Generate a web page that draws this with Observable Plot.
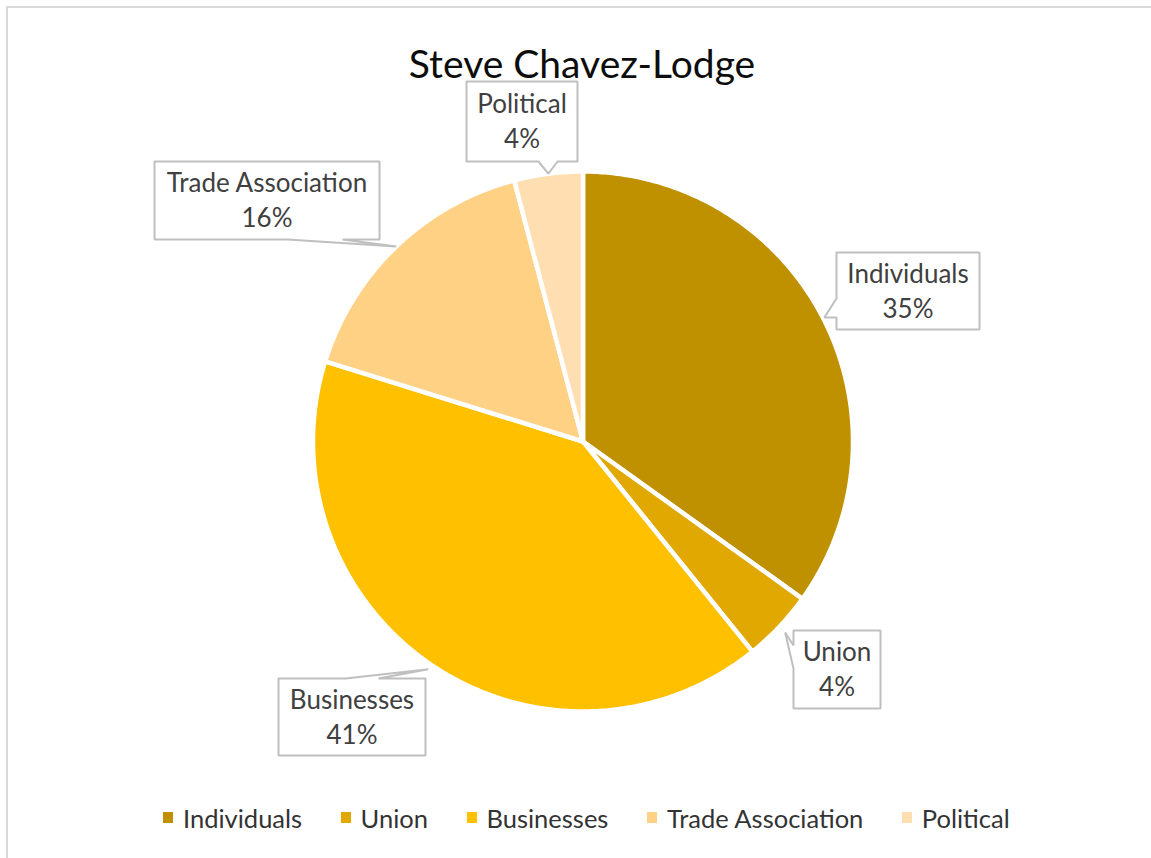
<!DOCTYPE html>
<html><head><meta charset="utf-8">
<script src="https://cdn.jsdelivr.net/npm/d3@7"></script>
<script src="https://cdn.jsdelivr.net/npm/@observablehq/plot@0.6"></script>
<style>
body{margin:0;background:#fff;}
#wrap{position:relative;width:1151px;height:858px;overflow:hidden;background:#fff;}
#border{position:absolute;left:6px;top:6px;width:1300px;height:1000px;border-top:2px solid #D9D9D9;border-left:2px solid #D9D9D9;}
#chart{position:absolute;left:0;top:0;}
#legend{position:absolute;left:163px;top:801px;}
div.lg-swatches{font-family:Lato,sans-serif;font-size:25.5px;color:#333;margin:0;}
div.lg-swatches .lg-swatch{margin-right:38.5px;}
div.lg-swatches .lg-swatch > svg{margin-right:10px;}
</style></head><body>
<div id="wrap"><div id="border"></div><div id="chart"></div><div id="legend"></div></div>
<script>
// ---- data ----
const title = "Steve Chavez-Lodge";
const categories = ["Individuals", "Union", "Businesses", "Trade Association", "Political"];
const values = [34.9, 4.3, 40.6, 16.1, 4.1];
const colors = ["#BF9000", "#E0A800", "#FFC000", "#FFD185", "#FFDFB2"];

// ---- layout (pixels) ----
const W = 1151, H = 858, cx = 582.5, cy = 441, R = 270;
const callouts = [
  {category: "Individuals", box: [836, 252, 979, 329], side: "left", base: [298, 317], tipR: 1.005},
  {category: "Union", box: [793, 630, 880, 708], side: "left", base: [645, 668], tipR: 1.03},
  {category: "Businesses", box: [278, 678, 425, 755], side: "top", base: [345, 378], tipR: 1.02},
  {category: "Trade Association", box: [154, 161, 379, 239], side: "bottom", base: [287, 342], tipR: 1.0},
  {category: "Political", box: [466, 81, 577, 161], side: "bottom", base: [538, 557], tipR: 1.0}
];

const X = px => (px - cx) / R, Y = py => (cy - py) / R;
const total = d3.sum(values);
const data = categories.map((c, i) => ({category: c, value: values[i]}));
const arcs = d3.pie().sort(null).value(d => d.value)(data);
const arcBy = new Map(arcs.map(a => [a.data.category, a]));

const slicePts = arcs.flatMap(a => {
  const c = a.data.category;
  const n = Math.max(2, Math.ceil((a.endAngle - a.startAngle) / 0.01));
  const pts = [{category: c, x: 0, y: 0}];
  for (let k = 0; k <= n; k++) {
    const t = a.startAngle + (a.endAngle - a.startAngle) * k / n;
    pts.push({category: c, x: Math.sin(t), y: Math.cos(t)});
  }
  pts.push({category: c, x: 0, y: 0});
  return pts;
});

function outline(c) {
  const a = arcBy.get(c.category);
  const [x1, y1, x2, y2] = c.box, [b1, b2] = c.base;
  const mid = (a.startAngle + a.endAngle) / 2;
  const tip = [cx + R * c.tipR * Math.sin(mid), cy - R * c.tipR * Math.cos(mid)];
  let p;
  if (c.side === "left") p = [[x1, y1], [x2, y1], [x2, y2], [x1, y2], [x1, b2], tip, [x1, b1]];
  else if (c.side === "top") p = [[x1, y1], [b1, y1], tip, [b2, y1], [x2, y1], [x2, y2], [x1, y2]];
  else p = [[x1, y1], [x2, y1], [x2, y2], [b2, y2], tip, [b1, y2], [x1, y2]];
  p.push(p[0]);
  return p.map(([px, py]) => ({category: c.category, x: X(px), y: Y(py)}));
}
const outlinePts = callouts.flatMap(outline);
const labels = callouts.map(c => {
  const v = values[categories.indexOf(c.category)];
  return {
    x: X((c.box[0] + c.box[2]) / 2),
    y: Y((c.box[1] + c.box[3]) / 2 - 2),
    text: c.category + "\n" + Math.round(v / total * 100) + "%"
  };
});

const chart = Plot.plot({
  width: W, height: H, margin: 0,
  x: {domain: [X(0), X(W)], axis: null},
  y: {domain: [Y(H), Y(0)], axis: null},
  color: {domain: categories, range: colors},
  style: {background: "transparent", fontFamily: "Lato, sans-serif", overflow: "visible"},
  marks: [
    Plot.line(slicePts, {x: "x", y: "y", z: "category", fill: "category", stroke: "white", strokeWidth: 4.5, strokeLinejoin: "round"}),
    Plot.line(outlinePts, {x: "x", y: "y", z: "category", fill: "white", stroke: "#BFBFBF", strokeWidth: 2, strokeLinejoin: "miter"}),
    Plot.text(labels, {x: "x", y: "y", text: "text", fontSize: 26, lineHeight: 1.36, fill: "#404040"}),
    Plot.text([title], {frameAnchor: "top", dx: 6, dy: 50, fontSize: 39, fill: "#0d0d0d"})
  ]
});
document.getElementById("chart").appendChild(chart);

const legend = Plot.legend({
  color: {type: "ordinal", domain: categories, range: colors},
  legend: "swatches", className: "lg", swatchWidth: 10, swatchHeight: 11
});
document.getElementById("legend").appendChild(legend);
</script>
</body></html>
